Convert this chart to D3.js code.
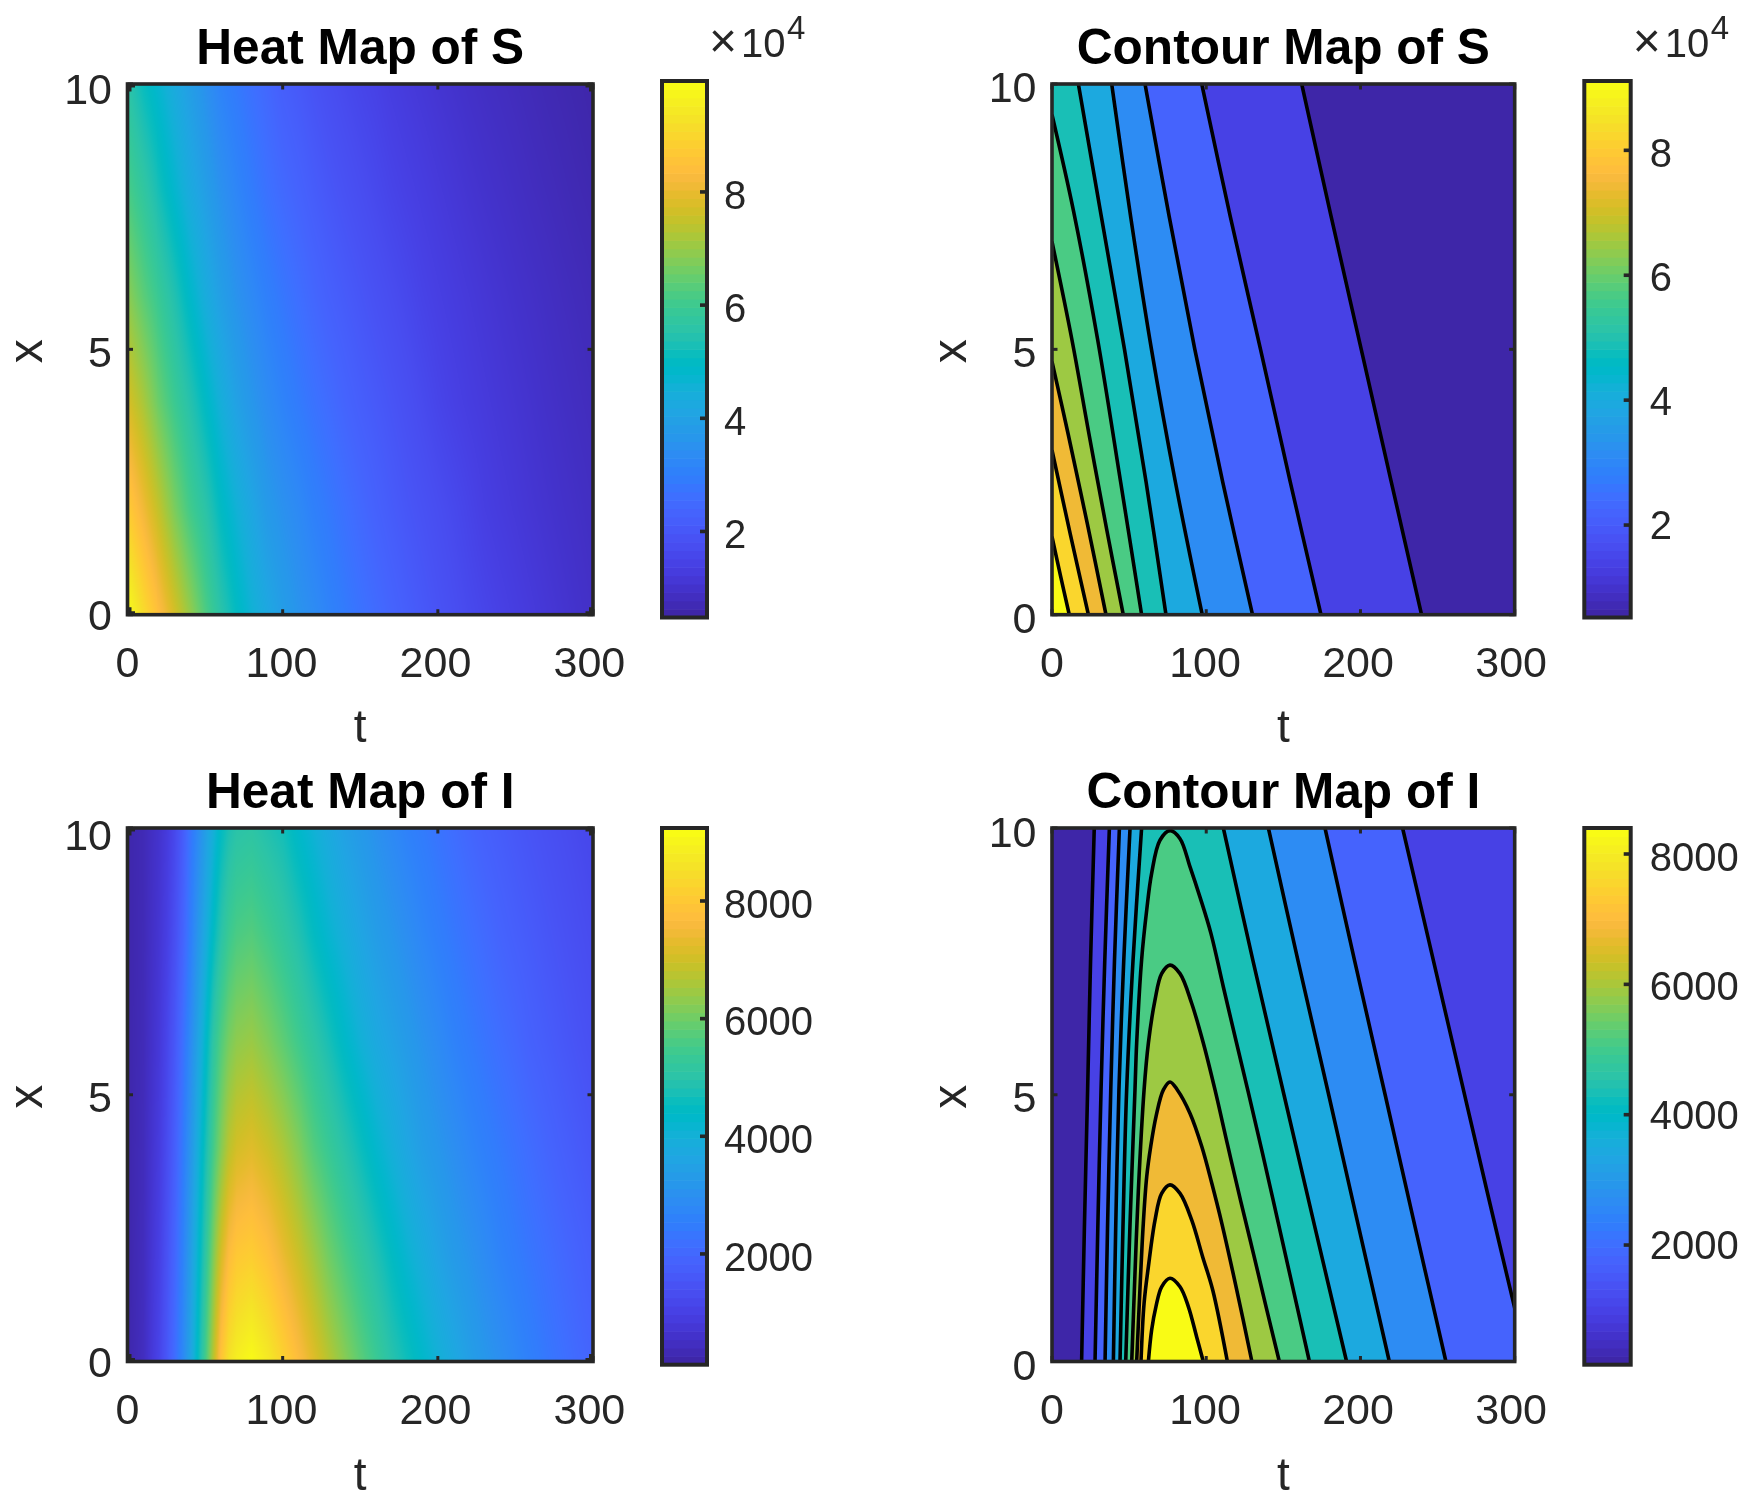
<!DOCTYPE html>
<html lang="en">
<head>
<meta charset="utf-8">
<title>Heat and contour maps of S and I</title>
<script src="https://d3js.org/d3.v7.min.js"></script>
<style>
  body { margin: 0; background: #fff; }
  #chart { position: relative; width: 1744px; height: 1504px; font-family: "Liberation Sans", Arial, sans-serif; }
  #chart canvas, #chart svg { position: absolute; left: 0; top: 0; }
  #chart canvas { left: auto; top: auto; }
</style>
</head>
<body>
<div id="chart"></div>
<script>
// tick labels
const tTicks = [0, 100, 200, 300];
const xTicks = [0, 5, 10];
const barTicksS = [2, 4, 6, 8];       // units of 10^4
const barTicksI = [2000, 4000, 6000, 8000];

// colour limits
const climHeatS = [0.48, 9.96];
const climContS = [0.52, 9.11];
const climHeatI = [117, 9241];
const climContI = [164, 8399];

// heat map samples: rows are x = 0, 2, ... 10, columns follow the t grid
const xGrid = [0, 2, 4, 6, 8, 10];
const tGridS = [0,10,20,30,40,50,60,70,80,90,100,110,120,130,140,150,160,170,180,190,200,210,220,230,240,250,260,270,280,290,300];
const heatS = [
  [9.96,9.19,8.50,7.77,7.03,6.25,5.57,5.03,4.57,4.20,3.86,3.58,3.35,3.10,2.88,2.68,2.50,2.32,2.15,2.00,1.86,1.73,1.60,1.49,1.38,1.28,1.19,1.10,1.02,.94,.87],
  [8.83,8.18,7.50,6.75,6.10,5.60,5.00,4.55,4.15,3.75,3.50,3.28,3.02,2.82,2.62,2.43,2.24,2.08,1.94,1.82,1.70,1.58,1.45,1.31,1.22,1.14,1.06,.99,.92,.86,.80],
  [7.79,7.23,6.56,6.00,5.50,4.97,4.45,4.00,3.65,3.35,3.10,2.88,2.68,2.50,2.31,2.15,2.02,1.89,1.76,1.62,1.48,1.37,1.27,1.19,1.11,1.04,.97,.90,.84,.78,.73],
  [6.92,6.40,5.93,5.43,4.87,4.37,3.92,3.55,3.27,3.00,2.78,2.58,2.38,2.20,2.06,1.93,1.80,1.68,1.56,1.43,1.33,1.24,1.16,1.08,1.01,.94,.88,.82,.76,.71,.66],
  [6.18,5.75,5.25,4.76,4.30,3.91,3.50,3.18,2.90,2.65,2.45,2.28,2.10,1.95,1.82,1.70,1.58,1.46,1.36,1.27,1.18,1.10,1.02,.95,.89,.83,.77,.72,.67,.62,.58],
  [5.60,5.10,4.70,4.30,3.90,3.50,3.10,2.85,2.62,2.40,2.16,2.02,1.86,1.72,1.60,1.49,1.40,1.28,1.19,1.11,1.03,.96,.89,.83,.78,.73,.68,.63,.59,.55,.50]
];
const tGridI = [0,10,20,25,30,35,40,45,50,55,60,65,70,80,90,100,110,120,130,140,150,160,170,180,190,200,210,220,230,240,250,260,270,280,290,300];
const heatI = [
  [156,400,1050,1530,2070,2720,3500,4480,5560,6780,7990,8650,8950,9230,8850,8320,7790,7260,6745,6280,5830,5410,4980,4650,4320,4010,3730,3430,3180,2970,2750,2540,2350,2190,2020,1880],
  [156,370,930,1380,1900,2530,3310,4180,5120,6180,7110,7760,8060,8190,7900,7440,6990,6520,6020,5610,5230,4850,4480,4140,3850,3550,3290,3080,2860,2636,2460,2300,2150,1990,1840,1700],
  [155,340,830,1230,1720,2340,3070,3900,4710,5530,6230,6800,7100,7270,7010,6660,6220,5720,5340,4970,4610,4250,3950,3650,3370,3160,2950,2730,2550,2390,2230,2070,1910,1760,1630,1510],
  [155,310,730,1080,1530,2110,2780,3540,4300,5112,5700,6110,6340,6460,6190,5850,5480,5110,4730,4350,4020,3740,3520,3290,3060,2840,2620,2440,2280,2120,1970,1800,1680,1560,1450,1350],
  [155,290,650,920,1310,1810,2440,3130,3800,4460,5000,5400,5620,5730,5500,5210,4880,4490,4160,3890,3610,3360,3150,2930,2710,2520,2350,2190,2030,1870,1740,1630,1520,1420,1320,1230],
  [155,280,580,800,1140,1620,2240,2790,3390,3940,4460,4800,5000,5080,4880,4680,4320,4030,3750,3470,3250,3020,2800,2590,2430,2260,2100,1930,1780,1670,1560,1460,1370,1280,1190,1110]
];

// contour levels and the [t, x] points each contour passes through
const levelsS = [1.38, 2.24, 3.10, 3.96, 4.82, 5.67, 6.53, 7.39, 8.25, 9.11];
const contoursS = [
  [[[161.9,10],[181,7.5],[200.5,5],[220,2.5],[239.6,0]]],
  [[[97.1,10],[115.6,7.5],[135.2,5],[154.5,2.5],[174.4,0]]],
  [[[60.3,10],[76,7.5],[92.6,5],[110.7,2.5],[130,0]]],
  [[[38.7,10],[51,7.5],[64.5,5],[80,2.5],[97.4,0]]],
  [[[17.1,10],[32,7.5],[47,5],[61,2.5],[73.9,0]]],
  [[[0,9.42],[14,7.6],[29.5,5.2],[44.5,2.5],[58.1,0]]],
  [[[0,7.03],[12.8,5.2],[24,3.4],[35.5,1.6],[46.2,0]]],
  [[[0,4.77],[10.5,3.4],[23,1.7],[35,0]]],
  [[[0,3.1],[12,1.5],[23.6,0]]],
  [[[0,1.47],[5.6,.72],[11.2,0]]]
];
// corners that close each filled region
const cornersS = [[[0,0],[0,10]],[[0,0],[0,10]],[[0,0],[0,10]],[[0,0],[0,10]],[[0,0],[0,10]],[[0,0]],[[0,0]],[[0,0]],[[0,0]],[[0,0]]];

const levelsI = [988, 1811, 2635, 3458, 4282, 5105, 5929, 6752, 7576, 8399];
const contoursI = [
  [[[19.2,0],[21,2.5],[23.1,5.09],[25,7.5],[27.4,10]]],
  [[[27.9,0],[29.7,2.5],[31.8,5.09],[34.2,7.5],[37.2,10]],
   [[227.3,10],[245,7.8],[263.5,5.5],[282,3.2],[300,1]]],
  [[[34.4,0],[36,2.5],[38.1,5.09],[40.5,7.5],[43.7,10]],
   [[177,10],[196.3,7.5],[216,5],[235.6,2.5],[255.4,0]]],
  [[[39.8,0],[41.3,2.5],[43.4,5.09],[46.5,7.5],[50.6,10]],
   [[140.3,10],[159.6,7.5],[179.4,5],[199,2.5],[218.7,0]]],
  [[[44.1,0],[46,2.5],[48.4,5.09],[52.5,7.5],[58.1,10]],
   [[111.1,10],[130.4,7.5],[150.4,5],[170.6,2.5],[191,0]]],
  [[[47.8,0],[50.6,2.59],[53.8,5.09],[54.9,5.97],[58.1,7.53],[61.4,8.46],[64.6,9.15],[70,9.77],[76.5,9.95],[83,9.8],[89.5,9.27],[96,8.7],[103,8.03],[111.1,7.02],[119,6.05],[127.4,5.03],[136.5,3.9],[146.7,2.6],[156.8,1.3],[166.9,0]]],
  [[[51.7,0],[53.8,1.65],[56,3.21],[59.7,5.09],[62.5,5.97],[66.8,6.78],[71.1,7.27],[76.5,7.43],[83,7.27],[90.6,6.71],[98.1,5.97],[105.7,5.09],[114,4.04],[122.4,3],[130.8,2],[139,1],[147.4,0]]],
  [[[54.9,0],[57,1.34],[59.2,2.59],[61.4,3.46],[64,4.03],[67.5,4.6],[72.2,5.09],[76.5,5.24],[81.3,5.09],[89.5,4.65],[97.1,4.03],[103.6,3.34],[110.1,2.59],[119.8,1.34],[129.6,0]]],
  [[[57.7,0],[59.7,1.09],[62.5,1.78],[66.8,2.65],[71.1,3.15],[76.5,3.31],[83,3.15],[90.6,2.65],[97.7,1.96],[104.2,1.34],[113.7,0]]],
  [[[62.5,0],[64.6,.59],[67.4,1.03],[71.1,1.40],[76.5,1.56],[83,1.40],[88.4,1.03],[93.8,.46],[98.1,0]]]
];
const cornersI = [[[300,10],[300,0]],[[300,0]],[],[],[],[],[],[],[],[]];

// MATLAB parula, 64 steps
const parula64 = [[.2422,.1504,.6603],[.2504,.1650,.7076],[.2578,.1818,.7511],[.2647,.1978,.7952],[.2706,.2147,.8364],[.2751,.2342,.8710],[.2783,.2559,.8991],[.2803,.2782,.9221],
  [.2813,.3006,.9414],[.2810,.3228,.9579],[.2795,.3447,.9717],[.2760,.3667,.9829],[.2699,.3892,.9906],[.2602,.4123,.9952],[.2440,.4358,.9988],[.2206,.4603,.9973],
  [.1963,.4847,.9892],[.1834,.5074,.9798],[.1786,.5289,.9682],[.1764,.5499,.9520],[.1687,.5703,.9359],[.1540,.5902,.9218],[.1460,.6091,.9079],[.1380,.6276,.8973],
  [.1248,.6459,.8883],[.1113,.6635,.8763],[.0952,.6798,.8598],[.0689,.6948,.8394],[.0297,.7082,.8163],[.0036,.7203,.7917],[.0067,.7312,.7660],[.0433,.7411,.7394],
  [.0964,.7500,.7120],[.1408,.7584,.6842],[.1717,.7670,.6554],[.1938,.7758,.6251],[.2161,.7843,.5923],[.2470,.7918,.5567],[.2906,.7973,.5188],[.3406,.8008,.4789],
  [.3909,.8029,.4354],[.4456,.8024,.3909],[.5044,.7993,.3480],[.5616,.7942,.3045],[.6174,.7876,.2612],[.6720,.7793,.2227],[.7242,.7698,.1910],[.7738,.7598,.1646],
  [.8203,.7498,.1535],[.8634,.7406,.1596],[.9035,.7330,.1774],[.9393,.7288,.2100],[.9728,.7298,.2394],[.9956,.7434,.2371],[.9970,.7659,.2199],[.9952,.7893,.2028],
  [.9892,.8136,.1885],[.9786,.8386,.1766],[.9676,.8639,.1643],[.9610,.8890,.1537],[.9597,.9135,.1423],[.9628,.9373,.1265],[.9691,.9606,.1064],[.9769,.9839,.0805]]
  .map(c => c.map(v => Math.round(v * 255)));

const ink = '#262626';
const chart = d3.select('#chart');
const svg = chart.append('svg').attr('width', 1744).attr('height', 1504);

// contour bands and colorbars step through the 64 colours
function colourScale(clim) {
  return d3.scaleQuantize().domain(clim).range(parula64);
}
// heat maps blend between them
function smoothScale(clim) {
  return d3.scaleLinear()
    .domain(d3.range(64).map(i => clim[0] + (clim[1] - clim[0]) * i / 63))
    .range(parula64).clamp(true);
}
const rgb = c => `rgb(${c[0]},${c[1]},${c[2]})`;

// layout of each panel, measured in page pixels
const panels = [
  { title: 'Heat Map of S', left: 127.5, right: 593, top: 84, bottom: 614.7, barL: 662, barR: 707, barT: 81, barB: 617.5, titleY: 63.8, tickY: 62.8, labelY: 127.3, yDy: [15.3, 17.7, 19.7],
    clim: climHeatS, barTicks: barTicksS, barDy: [0, 0, 0, 0], barDx: 17, heat: heatS, tGrid: tGridS, exp: true },
  { title: 'Contour Map of S', left: 1052, right: 1514.7, top: 84, bottom: 614.7, barL: 1584.3, barR: 1630.7, barT: 81, barB: 617.5, titleY: 63.8, tickY: 62.8, labelY: 127.3, yDy: [17.8, 17.7, 18],
    clim: climContS, barTicks: barTicksS, barDy: [-3.3, -2.2, -1.1, 0], barDx: 19, levels: levelsS, contours: contoursS, corners: cornersS, exp: true },
  { title: 'Heat Map of I', left: 127.5, right: 593, top: 828, bottom: 1361.5, barL: 662, barR: 707, barT: 828, barB: 1364.7, titleY: 808, tickY: 62.5, labelY: 128, yDy: [15, 17.3, 21.5],
    clim: climHeatI, barTicks: barTicksI, barDy: [0, 0, 0, 0], barDx: 17, heat: heatI, tGrid: tGridI },
  { title: 'Contour Map of I', left: 1052, right: 1514.7, top: 828, bottom: 1361.5, barL: 1584.3, barR: 1630.7, barT: 828, barB: 1364.7, titleY: 808, tickY: 62.5, labelY: 128, yDy: [18.5, 17.3, 18.5],
    clim: climContI, barTicks: barTicksI, barDy: [-3.3, -2.2, -1.1, 0], barDx: 19, levels: levelsI, contours: contoursI, corners: cornersI }
];

// bilinear fill of the sampled grid, like shading interp
function drawHeat(p, xs, ys) {
  const colour = smoothScale(p.clim);
  const w = Math.round(p.right - p.left), h = Math.round(p.bottom - p.top);
  const canvas = chart.insert('canvas', 'svg')
    .attr('width', w).attr('height', h)
    .style('left', p.left + 'px').style('top', p.top + 'px')
    .style('width', (p.right - p.left) + 'px').style('height', (p.bottom - p.top) + 'px');
  const ctx = canvas.node().getContext('2d');
  const img = ctx.createImageData(w, h);
  const colIndex = d3.scaleLinear().domain(p.tGrid).range(d3.range(p.tGrid.length));
  const rowIndex = d3.scaleLinear().domain(xGrid).range(d3.range(xGrid.length));
  for (let j = 0; j < h; j++) {
    const r = rowIndex(ys.invert(p.top + (j + 0.5) * (p.bottom - p.top) / h));
    const r0 = Math.min(Math.max(Math.floor(r), 0), xGrid.length - 2), fr = r - r0;
    for (let i = 0; i < w; i++) {
      const c = colIndex(xs.invert(p.left + (i + 0.5) * (p.right - p.left) / w));
      const c0 = Math.min(Math.max(Math.floor(c), 0), p.tGrid.length - 2), fc = c - c0;
      const v = (1 - fr) * ((1 - fc) * p.heat[r0][c0] + fc * p.heat[r0][c0 + 1])
              + fr * ((1 - fc) * p.heat[r0 + 1][c0] + fc * p.heat[r0 + 1][c0 + 1]);
      const col = colour(v), k = 4 * (j * w + i);
      img.data[k] = col[0]; img.data[k + 1] = col[1]; img.data[k + 2] = col[2]; img.data[k + 3] = 255;
    }
  }
  ctx.putImageData(img, 0, 0);
}

function drawContours(p, g, xs, ys, colour, idx) {
  const line = d3.line().x(d => xs(d[0])).y(d => ys(d[1])).curve(d3.curveCatmullRom.alpha(0.5));
  g.append('clipPath').attr('id', 'plot' + idx)
    .append('rect').attr('x', p.left).attr('y', p.top).attr('width', p.right - p.left).attr('height', p.bottom - p.top);
  const inner = g.append('g').attr('clip-path', `url(#plot${idx})`);
  // lowest band first, each higher region painted on top of it
  inner.append('rect').attr('x', p.left).attr('y', p.top).attr('width', p.right - p.left).attr('height', p.bottom - p.top)
    .attr('fill', rgb(colour(p.clim[0])));
  p.contours.forEach((segs, k) => {
    let d = segs.map(s => line(s)).join('').replace(/(.)M/g, '$1L');
    p.corners[k].forEach(c => { d += `L${xs(c[0])},${ys(c[1])}`; });
    inner.append('path').attr('d', d + 'Z').attr('fill', rgb(colour(p.levels[k])));
  });
  p.contours.forEach(segs => segs.forEach(s => {
    inner.append('path').attr('d', line(s)).attr('fill', 'none').attr('stroke', '#000').attr('stroke-width', 3.6).attr('stroke-linejoin', 'round');
  }));
}

function styleTicks(sel) {
  sel.select('.domain').remove();
  sel.selectAll('line').attr('stroke', ink).attr('stroke-width', 3);
}

panels.forEach((p, idx) => {
  const g = svg.append('g');
  const xs = d3.scaleLinear().domain([0, 300]).range([p.left, p.right]);
  const ys = d3.scaleLinear().domain([0, 10]).range([p.bottom, p.top]);
  const colour = colourScale(p.clim);

  if (p.heat) drawHeat(p, xs, ys);
  else drawContours(p, g, xs, ys, colour, idx);

  // ticks on all four sides, pointing in
  const axB = g.append('g').attr('transform', `translate(0,${p.bottom})`)
    .call(d3.axisBottom(xs).tickValues(tTicks).tickSize(-5.5).offset(0));
  styleTicks(axB);
  axB.selectAll('text')
    .attr('x', d => -d * 0.012).attr('y', p.tickY).attr('dy', 0)
    .attr('font-size', 43).attr('font-family', 'Liberation Sans').attr('fill', ink);
  const axT = g.append('g').attr('transform', `translate(0,${p.top})`)
    .call(d3.axisTop(xs).tickValues(tTicks).tickSize(-5.5).tickFormat('').offset(0));
  styleTicks(axT);
  const axL = g.append('g').attr('transform', `translate(${p.left},0)`)
    .call(d3.axisLeft(ys).tickValues(xTicks).tickSize(-5.5).offset(0));
  styleTicks(axL);
  axL.selectAll('text')
    .attr('x', -15.5).attr('y', (d, i) => p.yDy[i]).attr('dy', 0)
    .attr('font-size', 43).attr('font-family', 'Liberation Sans').attr('fill', ink);
  const axR = g.append('g').attr('transform', `translate(${p.right},0)`)
    .call(d3.axisRight(ys).tickValues(xTicks).tickSize(-5.5).tickFormat('').offset(0));
  styleTicks(axR);

  g.append('rect').attr('x', p.left).attr('y', p.top).attr('width', p.right - p.left).attr('height', p.bottom - p.top)
    .attr('fill', 'none').attr('stroke', ink).attr('stroke-width', 3.6);

  // small stepped corners the heat maps have
  if (p.heat) {
    [[p.left, 1], [p.right, -1]].forEach(([cx, sx]) => [[p.top, 1], [p.bottom, -1]].forEach(([cy, sy]) => {
      g.append('path').attr('fill', ink)
        .attr('d', `M${cx},${cy}h${sx * 7.5}v${sy * 3.5}h${-sx * 3.5}v${sy * 4}h${-sx * 4}Z`);
    }));
  }

  g.append('text').text(p.title)
    .attr('x', (p.left + p.right) / 2).attr('y', p.titleY).attr('text-anchor', 'middle')
    .attr('font-size', 49.6).attr('font-weight', 'bold').attr('fill', '#000');
  g.append('text').text('t')
    .attr('x', (p.left + p.right) / 2).attr('y', p.bottom + p.labelY).attr('text-anchor', 'middle')
    .attr('font-size', 46).attr('fill', ink);
  g.append('text').text('x')
    .attr('transform', `translate(${p.left - 86},${(p.top + p.bottom) / 2 + 2}) rotate(-90)`)
    .attr('text-anchor', 'middle').attr('font-size', 48).attr('fill', ink);

  // colorbar
  const barY = d3.scaleLinear().domain(p.clim).range([p.barB, p.barT]);
  g.append('g').selectAll('rect').data(colour.range()).join('rect')
    .attr('x', p.barL).attr('width', p.barR - p.barL)
    .attr('y', c => barY(colour.invertExtent(c)[1]))
    .attr('height', c => barY(colour.invertExtent(c)[0]) - barY(colour.invertExtent(c)[1]) + 0.6)
    .attr('fill', c => rgb(c));
  const axBar = g.append('g').attr('transform', `translate(${p.barR},0)`)
    .call(d3.axisRight(barY).tickValues(p.barTicks).tickSize(-7).tickFormat(d3.format('d')).offset(0));
  styleTicks(axBar);
  axBar.selectAll('line').attr('stroke-width', 3.6);
  axBar.selectAll('text')
    .attr('x', p.barDx).attr('y', (d, i) => 16.8 + p.barDy[i]).attr('dy', 0)
    .attr('font-size', 40).attr('font-family', 'Liberation Sans').attr('fill', ink);
  g.append('rect').attr('x', p.barL).attr('y', p.barT).attr('width', p.barR - p.barL).attr('height', p.barB - p.barT)
    .attr('fill', 'none').attr('stroke', ink).attr('stroke-width', 4);

  // exponent above the S colorbars
  if (p.exp) {
    g.append('text').text('\u00d7').attr('x', p.barR + 2).attr('y', 57).attr('font-size', 48).attr('fill', ink);
    g.append('text').text('10').attr('x', p.barR + 34).attr('y', 57).attr('font-size', 40).attr('fill', ink);
    g.append('text').text('4').attr('x', p.barR + 80).attr('y', 39).attr('font-size', 33).attr('fill', ink);
  }
});
</script>
</body>
</html>
